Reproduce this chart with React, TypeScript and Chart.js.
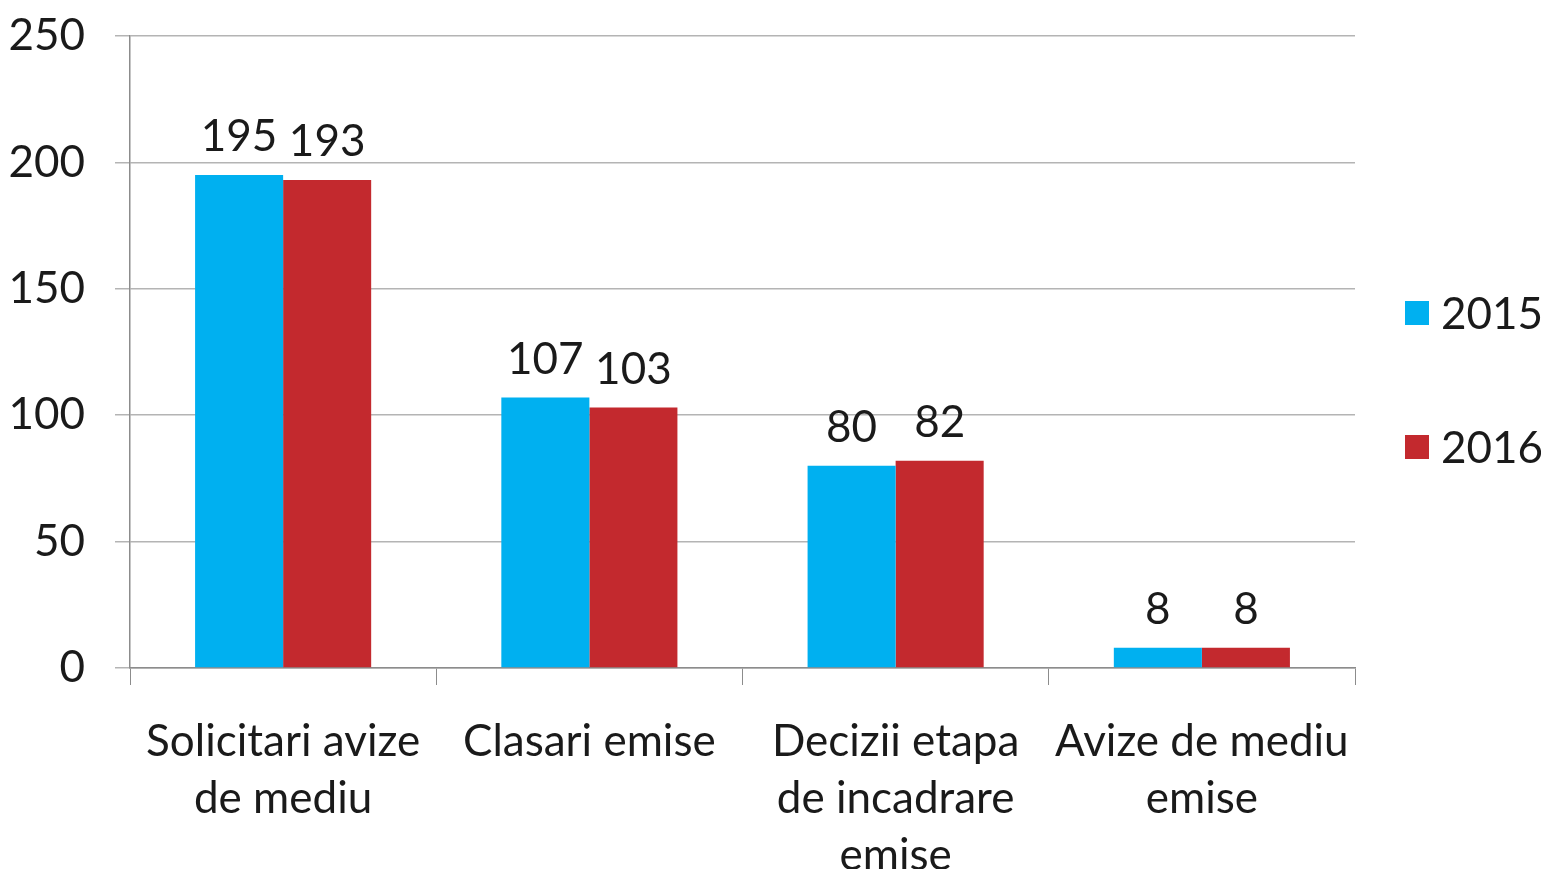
import React, { useEffect, useRef } from "react";
import { Chart, registerables } from "chart.js";

Chart.register(...registerables);

const categories: string[][] = [
  ["Solicitari avize", "de mediu"],
  ["Clasari emise"],
  ["Decizii etapa", "de incadrare", "emise"],
  ["Avize de mediu", "emise"],
];
const seriesNames = ["2015", "2016"];
const values2015 = [195, 107, 80, 8];
const values2016 = [193, 103, 82, 8];
const colors = ["#00B0F0", "#C3292E"];
const yTicks = [0, 50, 100, 150, 200, 250];

const FONT = "Lato, 'Open Sans', sans-serif";
const FS = 44;

const valueLabels = {
  id: "valueLabels",
  afterDatasetsDraw(chart: any) {
    const ctx = chart.ctx;
    ctx.save();
    ctx.font = `${FS}px ${FONT}`;
    ctx.fillStyle = "#1a1a1a";
    ctx.textAlign = "center";
    ctx.textBaseline = "alphabetic";
    chart.data.datasets.forEach((ds: any, di: number) => {
      const meta = chart.getDatasetMeta(di);
      meta.data.forEach((bar: any, i: number) => {
        ctx.fillText(String(ds.data[i]), bar.x, bar.y - 24);
      });
    });
    ctx.restore();
  },
};

const sideLegend = {
  id: "sideLegend",
  afterDraw(chart: any) {
    const ctx = chart.ctx;
    const area = chart.chartArea;
    ctx.save();
    ctx.font = `${FS}px ${FONT}`;
    ctx.textBaseline = "middle";
    ctx.textAlign = "left";
    const x = area.right + 50;
    const centerY = (area.top + area.bottom) / 2 + 28;
    const gap = 134;
    const n = chart.data.datasets.length;
    chart.data.datasets.forEach((ds: any, i: number) => {
      const y = centerY + (i - (n - 1) / 2) * gap;
      ctx.fillStyle = ds.backgroundColor;
      ctx.fillRect(x, y - 12, 24, 24);
      ctx.fillStyle = "#1a1a1a";
      ctx.fillText(ds.label, x + 36, y + 2);
    });
    ctx.restore();
  },
};

export default function App() {
  const ref = useRef<HTMLCanvasElement | null>(null);
  useEffect(() => {
    document.body.style.margin = "0";
    const chart = new Chart(ref.current!, {
      type: "bar",
      data: {
        labels: categories,
        datasets: [
          { label: seriesNames[0], data: values2015, backgroundColor: colors[0] },
          { label: seriesNames[1], data: values2016, backgroundColor: colors[1] },
        ],
      },
      options: {
        animation: false,
        responsive: false,
        maintainAspectRatio: false,
        layout: { padding: { top: 36, right: 186, left: 0, bottom: 0 } },
        datasets: {
          bar: { categoryPercentage: 0.575, barPercentage: 1.0 },
        },
        plugins: {
          legend: { display: false },
          tooltip: { enabled: false },
        },
        scales: {
          x: {
            afterFit(axis: any) {
              axis.height = 201;
              axis.paddingLeft = 0;
              axis.paddingRight = 0;
            },
            grid: {
              offset: true,
              drawOnChartArea: false,
              drawTicks: true,
              tickLength: 17,
              color: "#8c8c8c",
            },
            border: { color: "#8c8c8c", width: 1.5 },
            ticks: {
              font: { family: FONT, size: FS, lineHeight: "57px" as any },
              color: "#1a1a1a",
              padding: 28,
              maxRotation: 0,
              autoSkip: false,
            },
          },
          y: {
            min: 0,
            max: 250,
            afterFit(axis: any) {
              axis.width = 130;
              axis.paddingTop = 0;
              axis.paddingBottom = 0;
            },
            afterBuildTicks(axis: any) {
              axis.ticks = yTicks.map((v) => ({ value: v }));
            },
            grid: {
              color: "#b4b4b4",
              lineWidth: 1.5,
              tickLength: 15,
              drawTicks: true,
            },
            border: { color: "#8c8c8c", width: 1.5 },
            ticks: {
              font: { family: FONT, size: FS },
              color: "#1a1a1a",
              padding: 30,
            },
          },
        },
      },
      plugins: [valueLabels, sideLegend],
    });
    return () => chart.destroy();
  }, []);
  return <canvas ref={ref} width={1541} height={869} style={{ display: "block" }} />;
}
